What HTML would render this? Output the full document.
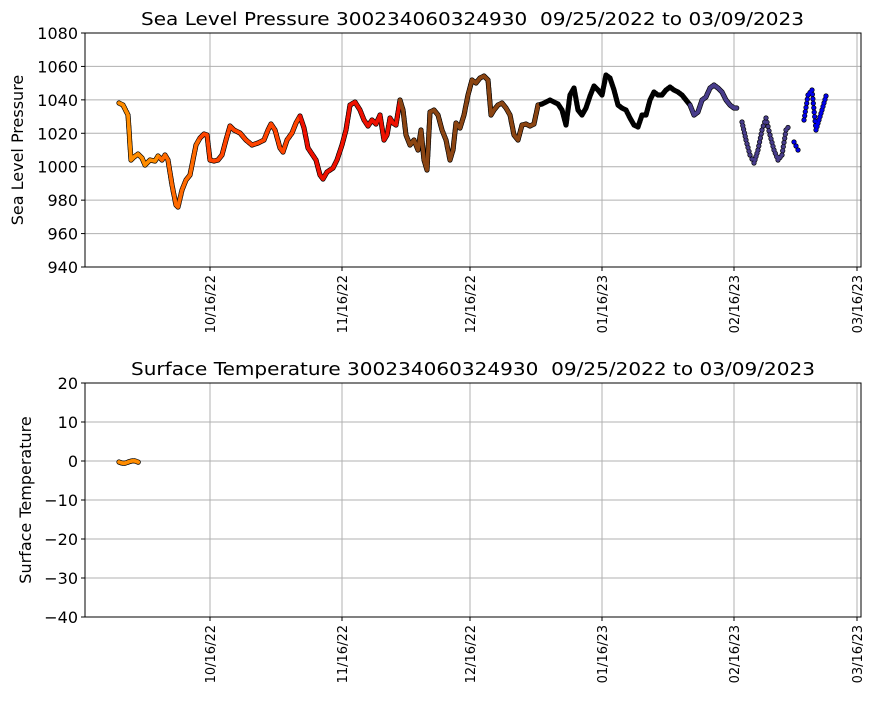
<!DOCTYPE html>
<html><head><meta charset="utf-8"><style>
body{margin:0;background:#fff;}
svg text{font-family:"DejaVu Sans","Liberation Sans",sans-serif;fill:#000;white-space:pre;}
</style></head><body>
<svg id="s" width="873" height="700" xmlns="http://www.w3.org/2000/svg">
<rect width="873" height="700" fill="#fff"/>
<g id="grid" stroke="#b0b0b0" stroke-width="1"></g>
<g id="edge"></g>
<g id="data"></g>
<g id="axes" fill="none" stroke="#000" stroke-width="1"></g>
<g id="labels" font-size="16"></g>
<text x="141" y="25" font-size="18" textLength="663" lengthAdjust="spacingAndGlyphs">Sea Level Pressure 300234060324930  09/25/2022 to 03/09/2023</text>
<text x="131" y="375" font-size="18" textLength="684" lengthAdjust="spacingAndGlyphs">Surface Temperature 300234060324930  09/25/2022 to 03/09/2023</text>
<text transform="translate(23,150) rotate(-90)" font-size="16" text-anchor="middle">Sea Level Pressure</text>
<text transform="translate(31,500) rotate(-90)" font-size="16" text-anchor="middle">Surface Temperature</text>
</svg>
<script>
var NS="http://www.w3.org/2000/svg";
function el(p,t,a,txt){var e=document.createElementNS(NS,t);for(var k in a)e.setAttribute(k,a[k]);if(txt!=null)e.textContent=txt;document.getElementById(p).appendChild(e);return e;}
var L=85,R=861,xt=[[210,"10/16/22"],[342,"11/16/22"],[470,"12/16/22"],[602,"01/16/23"],[734,"02/16/23"],[857,"03/16/23"]];
function panel(top,bot,vals){
 var n=vals.length-1;
 for(var i=0;i<=n;i++){var y=top+(bot-top)*i/n;
  el('grid','line',{x1:L,x2:R,y1:y,y2:y});
  el('axes','line',{x1:L-4,x2:L,y1:y,y2:y});
  el('labels','text',{x:L-7,y:y+6,'text-anchor':'end'},vals[i]);}
 xt.forEach(function(t){el('grid','line',{x1:t[0],x2:t[0],y1:top,y2:bot});
  el('axes','line',{x1:t[0],x2:t[0],y1:bot,y2:bot+4});
  el('labels','text',{transform:'translate('+(t[0]+5)+','+(bot+8)+') rotate(-90)','text-anchor':'end','font-size':'13'},t[1]);});
 el('axes','rect',{x:L,y:top,width:R-L,height:bot-top});
}
panel(33,267,["1080","1060","1040","1020","1000","980","960","940"]);
panel(383,617,["20","10","0","\u221210","\u221220","\u221230","\u221240"]);
var pts=[[119,103],[123,105],[128,115],[131,160],[134,157],[138,154],[142,158],[145,165],[150,160],[155,161],[158,156],[162,160],[165,155],[168,160],[172,185],[176,205],[178,207],[182,190],[186,180],[190,175],[193,160],[196,145],[200,138],[204,134],[207,135],[210,160],[214,161],[218,160],[222,155],[226,140],[230,126],[234,130],[240,133],[246,140],[252,145],[258,143],[264,140],[268,130],[271,124],[275,130],[280,148],[283,152],[287,140],[292,133],[296,123],[300,116],[304,128],[308,148],[312,154],[316,160],[320,175],[323,179],[327,172],[333,168],[337,160],[342,145],[346,130],[350,105],[355,102],[360,110],[364,120],[368,126],[372,120],[376,124],[380,115],[384,140],[387,135],[390,118],[393,123],[396,125],[400,100],[403,110],[406,135],[410,145],[414,140],[418,150],[421,130],[424,160],[427,170],[430,112],[434,110],[438,115],[442,130],[446,140],[450,160],[453,150],[456,123],[460,128],[464,115],[468,95],[472,80],[476,83],[480,78],[484,76],[488,80],[491,115],[494,110],[498,105],[502,103],[506,108],[510,115],[514,135],[518,140],[522,125],[526,124],[530,126],[534,124],[538,105],[542,104],[546,102],[550,100],[554,102],[558,104],[562,110],[566,125],[570,95],[574,88],[578,110],[582,115],[586,108],[590,96],[594,86],[598,90],[602,95],[606,75],[610,78],[614,90],[618,105],[622,108],[626,110],[630,118],[634,125],[638,127],[642,115],[646,115],[650,100],[654,92],[658,95],[662,95],[666,90],[670,87],[674,90],[678,92],[682,95],[686,100],[690,105],[694,115],[698,112],[702,100],[706,97],[710,88],[714,85],[718,88],[722,92],[726,100],[730,105],[734,108],[738,108],null,[742,122],[746,140],[750,155],[754,163],[758,150],[762,130],[766,118],[770,135],[774,150],[778,160],[782,155],[786,130],[790,125],null,[794,142],[798,150],[800,148],null,[804,120],[808,95],[812,90],[816,130],[819,120],[822,110],[826,96]];
function col(x){if(x<160)return'#ff8c00';if(x<200)return'#ff6a00';if(x<300)return'#ff4500';if(x<400)return'#ee1100';if(x<540)return'#8b4513';if(x<690)return'#000';if(x<790)return'#483d8b';return'#0000ee';}
function dot(x,y,c){el('edge','circle',{cx:x.toFixed(1),cy:y.toFixed(1),r:2.6,fill:'#000'});
 el('data','circle',{cx:x.toFixed(1),cy:y.toFixed(1),r:1.9,fill:c});}
for(var i=0;i<pts.length-1;i++){var a=pts[i],b=pts[i+1];if(!a||!b)continue;
 var d=Math.hypot(b[0]-a[0],b[1]-a[1]),n=Math.max(1,Math.ceil(d/1.5));
 if(a[0]>740)n=Math.max(1,Math.ceil(d/4.5));
 for(var j=0;j<n;j++){var t=j/n;var x=a[0]+(b[0]-a[0])*t,y=a[1]+(b[1]-a[1])*t;dot(x,y,col(x));}}
dot(826,96,'#0000ee');
for(var x=119;x<=139;x+=1.2){dot(x,462+1.2*Math.sin((x-119)/3),'#ff8c00');}
</script>
</body></html>
